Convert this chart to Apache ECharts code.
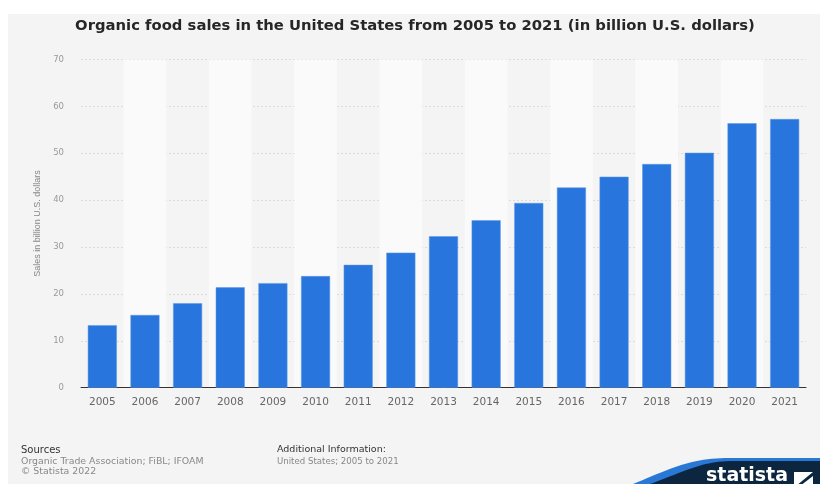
<!DOCTYPE html>
<html>
<head>
<meta charset="utf-8">
<script src="https://cdn.jsdelivr.net/npm/echarts@6/dist/echarts.min.js"></script>
<style>html,body{margin:0;padding:0;background:#fff}#c{width:820px;height:484px}</style>
</head>
<body>
<div id="c"></div>
<script>
var categories = ['2005','2006','2007','2008','2009','2010','2011','2012','2013','2014','2015','2016','2017','2018','2019','2020','2021'];
var sales = [13.3, 15.5, 18.0, 21.4, 22.3, 23.8, 26.2, 28.8, 32.3, 35.7, 39.4, 42.7, 45.0, 47.7, 50.1, 56.4, 57.3];
var yTicks = [0, 10, 20, 30, 40, 50, 60, 70];
var titleText = 'Organic food sales in the United States from 2005 to 2021 (in billion U.S. dollars)';
var yAxisName = 'Sales in billion U.S. dollars';

function logoShape(x0, y0, c1x, c1y, c2x, c2y, x1, y1) {
  var pts = [];
  for (var i = 0; i <= 24; i++) {
    var t = i / 24, u = 1 - t;
    pts.push([u*u*u*x0 + 3*u*u*t*c1x + 3*u*t*t*c2x + t*t*t*x1,
              u*u*u*y0 + 3*u*u*t*c1y + 3*u*t*t*c2y + t*t*t*y1]);
  }
  pts.push([820, y1]); pts.push([820, 484]);
  return pts;
}

var chart = echarts.init(document.getElementById('c'), null, {renderer: 'canvas'});
var FONT = '"Liberation Sans", Arial, Helvetica, sans-serif';
var WIDE = '"DejaVu Sans", "Liberation Sans", sans-serif';
chart.setOption({
  backgroundColor: '#ffffff',
  animation: false,
  textStyle: {fontFamily: WIDE},
  title: {
    text: titleText,
    left: 410, top: 14, textAlign: 'center',
    textStyle: {fontSize: 14.8, fontWeight: 'bold', color: '#262626', fontFamily: WIDE}
  },
  grid: {left: 81, right: 14, top: 59.5, bottom: 96.3, containLabel: false},
  xAxis: {
    type: 'category',
    data: categories,
    axisLine: {lineStyle: {color: '#333', width: 1}},
    axisTick: {show: false},
    axisLabel: {color: '#666', fontSize: 10.5, margin: 9, fontFamily: WIDE},
    splitArea: {show: true, areaStyle: {color: ['rgba(250,250,250,0)', '#fafafa']}}
  },
  yAxis: {
    type: 'value',
    min: yTicks[0], max: yTicks[yTicks.length - 1], interval: 10,
    name: yAxisName,
    nameLocation: 'middle',
    nameGap: 38,
    nameTextStyle: {color: '#888', fontSize: 9, fontFamily: FONT},
    axisLine: {show: false},
    axisTick: {show: false},
    axisLabel: {color: '#999', fontSize: 8.5, margin: 17, fontFamily: WIDE},
    splitLine: {lineStyle: {color: '#dcdcdc', type: [2, 2], width: 1}}
  },
  series: [{
    type: 'bar',
    data: sales,
    barCategoryGap: '32%',
    itemStyle: {color: '#2876dd', borderColor: '#5a97e6', borderWidth: 0.5}
  }],
  graphic: [
    {type: 'rect', z: -10, silent: true, shape: {x: 8, y: 14, width: 812, height: 470}, style: {fill: '#f4f4f4'}},
    {type: 'text', x: 21, y: 445, style: {text: 'Sources', fill: '#333', font: '10px ' + WIDE}},
    {type: 'text', x: 21, y: 457, style: {text: 'Organic Trade Association; FiBL; IFOAM', fill: '#888', font: '9.4px ' + WIDE}},
    {type: 'text', x: 21, y: 467.5, style: {text: '\u00A9 Statista 2022', fill: '#888', font: '9.4px ' + WIDE}},
    {type: 'text', x: 277, y: 445, style: {text: 'Additional Information:', fill: '#333', font: '9.5px ' + WIDE}},
    {type: 'text', x: 277, y: 457, style: {text: 'United States; 2005 to 2021', fill: '#888', font: '8.6px ' + WIDE}},
    {type: 'polygon', silent: true, shape: {points: logoShape(633, 484, 672, 468, 690, 458, 730, 458)}, style: {fill: '#2a78d6'}},
    {type: 'polygon', silent: true, shape: {points: logoShape(650, 484, 686, 471, 702, 461, 733, 461)}, style: {fill: '#0d2640'}},
    {type: 'text', x: 706, y: 467, style: {text: 'statista', fill: '#fff', font: 'bold 19px ' + WIDE}},
    {type: 'rect', silent: true, shape: {x: 794, y: 472, width: 19, height: 14}, style: {fill: '#fff'}},
    {type: 'polygon', silent: true, shape: {points: [[813, 472], [813, 476], [800, 486], [796, 486]]}, style: {fill: '#0d2640'}}
  ]
});
</script>
</body>
</html>
